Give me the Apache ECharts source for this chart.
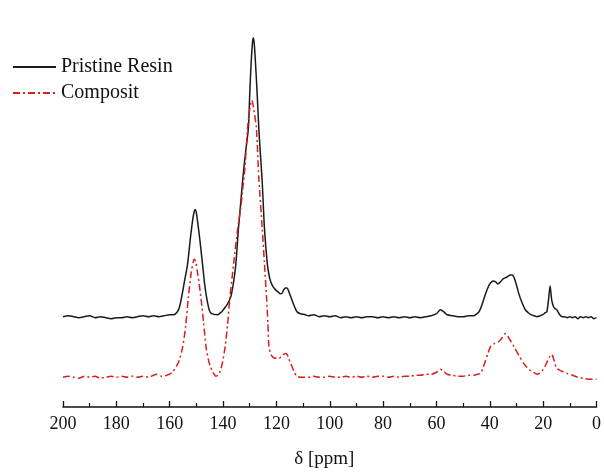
<!DOCTYPE html>
<html><head><meta charset="utf-8">
<script src="https://cdn.jsdelivr.net/npm/echarts@6/dist/echarts.min.js"></script>
<style>html,body{margin:0;padding:0;background:#fff}#c{width:604px;height:474px}</style>
</head><body><div id="c"></div>
<script>
var xTicks = [0, 20, 40, 60, 80, 100, 120, 140, 160, 180, 200];
var seriesNames = ['Pristine Resin', 'Composit'];
var pristinePpm = [200,198,196,194,192,190,188,186,184,182,180,178,176,174,172,170,168,166,164,162,160,158.5,
  157.1,156.3,155.5,154.5,153.3,152.2,151.3,150.8,150.5,150.1,149.7,148.8,147.7,146.9,146.2,145.2,144.3,142.1,
  140.5,139.6,138.3,137.1,136.1,135.2,134.2,133.4,132.5,131.5,130.5,130.0,129.5,129.0,128.7,128.3,127.8,127.2,126.6,126.0,125.3,124.5,123.4,122.7,122.1,121.2,120.3,119.4,118.5,117.8,117.3,116.6,116.0,115.3,114.6,113.5,112.3,111,109.2,
  108,106,104,102,100,98,96,94,92,90,88,86,84,82,80,78,76,74,72,70,68,66,64,62,60,58.5,57.3,56,54,52,50,48,46,
  44.8,44.0,42.8,41.6,40.2,38.7,37.8,37.0,36.0,35.0,33.6,32.3,31.6,31.0,30.0,29.1,27.9,26.7,25.6,24.6,23.4,22.3,21.2,20.1,19.2,18.6,18.0,17.4,16.8,16.1,15.5,14.9,13.8,12.8,
  12,11,10,9,8,7,6,5,4,3,2,1,0];
var pristineVal = [91,92,91,90,91,92,90,91,90,89,90,90,91,90,91,92,91,92,91,92,93,93,
  96,101,111,126,144,171,190,197,199,197,190,171,144,124,111,98,94,93,
  96,99,104,111,125,144,181,205,233,258,281,315,345,366,372,366,345,315,281,255,226,181,144,132,126,121,118,116,114,115,118,120,120,116,111,103,96,94,93,
  92,93,91,92,91,92,90,91,90,91,90,91,91,90,91,90,91,90,91,90,91,90,91,92,94,98,96,93,92,91,91,92,92,
  94,96,104,114,123,127,126,124,126,129,131,133,133,131,123,114,105,98,95,93,92,91,92,93,95,96,108,122,108,101,99,98,93,91,
  91,90,91,90,91,89,91,90,91,90,91,89,90];
var compositPpm = [200,198,196,194,192,190,188,186,184,182,180,178,176,174,172,170,168,166,165,163,161,159,
  157.5,156.3,155.1,154,153.0,151.9,151.2,150.8,150.2,149.6,148.9,148.2,147.3,146.4,145.6,144.8,143.8,142.7,141.9,141.1,140.2,139.2,138.3,137.4,136.0,134.6,133.4,132.6,131.8,130.8,130.0,129.2,128.5,127.5,126.6,125.3,124.5,123.7,123.2,122.8,122.0,121.2,120.3,119.1,117.8,116.6,116.0,115.4,114.5,113.4,112.3,
  110,108,106,104,102,100,98,96,94,92,90,88,86,84,82,80,78,76,74,72,70,68,66,64,62,60,58.5,57.3,56,54,52,50,48,46,44.5,43.4,
  42.5,41.7,40.7,39.7,38.2,36.6,35.3,34.1,32.5,31.0,29.1,27.3,26.1,24.9,23.6,22.3,21.4,20.5,19.5,18.6,17.7,16.8,15.8,14.9,13.0,11.2,9,7,5.0,3,1.2,0];
var compositVal = [30,31,30,29,31,30,31,29,30,31,30,31,30,31,30,31,30,32,33,31,32,35,
  41,48,61,82,111,136,146,149,146,136,123,108,85,61,49,41,35,31,32,36,45,61,83,111,145,178,200,220,241,281,300,309,300,281,231,180,145,111,85,61,53,50,49,49,52,54,53,49,43,36,31,
  30,30,31,30,30,31,30,30,31,30,31,30,31,30,31,31,30,31,30,31,31,32,32,33,33,35,38,36,33,32,31,31,32,32,33,34,
  40,46,54,61,64,66,70,74,68,61,52,44,40,37,35,33,34,36,40,45,50,53,46,39,36,34,32,30,29,28,28,28];
var peakLabels = ['1', '2', '3', '4', '5'];
var peakLabelPpm = [151.7, 128.4, 114.3, 35.0, 17.1];
var peakLabelVal = [221, 388, 139, 167, 143];

function pairs(xs, ys) { return xs.map(function (x, i) { return [x, ys[i]]; }); }
var serif = '"Liberation Serif", "Times New Roman", serif';
var chart = echarts.init(document.getElementById('c'), null, {renderer: 'canvas'});
chart.setOption({
  backgroundColor: '#fff',
  animation: false,
  grid: {left: 63, right: 4, top: 10, bottom: 64},
  legend: {
    data: seriesNames, orient: 'vertical', left: 7, top: 52,
    itemWidth: 43, itemHeight: 14, itemGap: 6,
    itemStyle: {opacity: 0},
    textStyle: {fontFamily: serif, fontSize: 20, color: '#111'}
  },
  xAxis: {
    type: 'value', inverse: true, min: 0, max: 200, interval: 20,
    name: 'δ [ppm]', nameLocation: 'middle', nameGap: 43,
    nameTextStyle: {fontFamily: serif, fontSize: 19, color: '#111', padding: [0, 11, 0, 0]},
    axisLine: {show: true, lineStyle: {color: '#111', width: 1.5}},
    axisTick: {show: true, inside: true, length: 6, lineStyle: {color: '#111', width: 1.3}},
    minorTick: {show: true, splitNumber: 2, length: 4, lineStyle: {color: '#111', width: 1.2}},
    axisLabel: {fontFamily: serif, fontSize: 18, color: '#111', margin: 8,
      formatter: function (v) { return xTicks.indexOf(v) >= 0 ? String(v) : ''; }},
    splitLine: {show: false}
  },
  yAxis: {type: 'value', min: 0, max: 400, show: false},
  series: [
    {name: seriesNames[0], type: 'line', data: pairs(pristinePpm, pristineVal), symbol: 'none', smooth: 0.25,
     lineStyle: {color: '#1a1a1a', width: 1.5}, itemStyle: {color: '#1a1a1a'}},
    {name: seriesNames[1], type: 'line', data: pairs(compositPpm, compositVal), symbol: 'none', smooth: 0.25,
     lineStyle: {color: '#d91e1e', width: 1.5, type: [7, 3, 2, 3]}, itemStyle: {color: '#d91e1e'}},
    {type: 'scatter', data: pairs(peakLabelPpm, peakLabelVal), symbolSize: 1, itemStyle: {opacity: 0}, silent: true,
     label: {show: true, position: 'inside', color: '#111', fontFamily: serif, fontSize: 18,
       formatter: function (p) { return peakLabels[p.dataIndex]; }}}
  ]
});
</script></body></html>
